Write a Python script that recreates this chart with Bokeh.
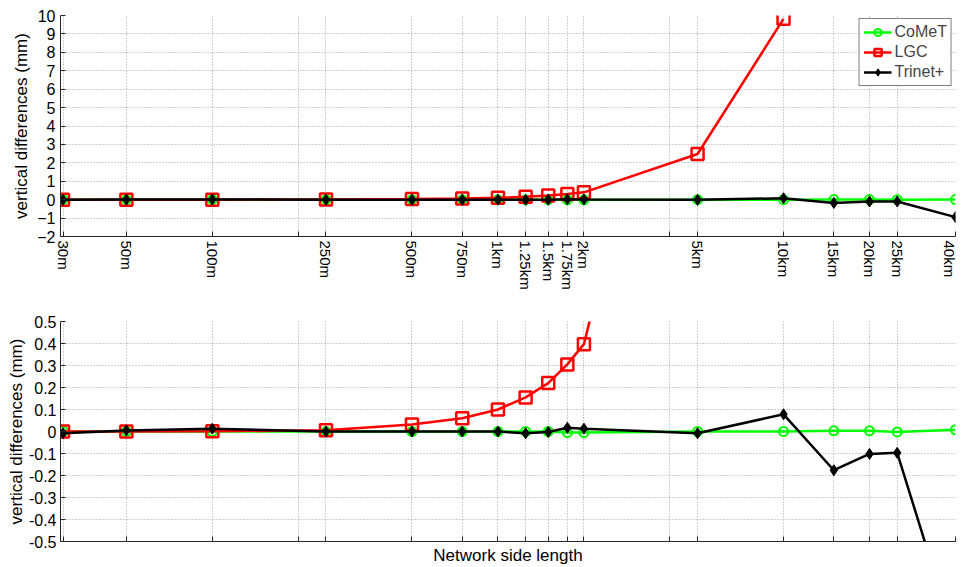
from bokeh.plotting import figure
from bokeh.layouts import column
from bokeh.models import Range1d, FixedTicker, CustomJSTickFormatter
from bokeh.embed import file_html
from bokeh.resources import INLINE

# ---- data ----
distance_m = [30, 50, 100, 250, 500, 750, 1000, 1250, 1500, 1750, 2000,
              5000, 10000, 15000, 20000, 25000, 40000]
tick_labels = ["30m", "50m", "100m", "250m", "500m", "750m", "1km", "1.25km",
               "1.5km", "1.75km", "2km", "5km", "10km", "15km", "20km", "25km", "40km"]
extra_grid_m = [200, 4000]

comet = [0.0, 0.0, 0.0, 0.0, 0.0, 0.0, 0.0, 0.0, 0.0, -0.005, -0.005,
         0.0, 0.0, 0.003, 0.003, -0.002, 0.008]
lgc_distance_m = [30, 50, 100, 250, 500, 750, 1000, 1250, 1500, 1750, 2000, 5000, 10000]
lgc = [0.0001, 0.0003, 0.001, 0.006, 0.032, 0.06, 0.10, 0.155, 0.22, 0.305, 0.397, 2.48, 9.82]
trinet = [-0.008, 0.005, 0.013, 0.0, 0.0, 0.0, 0.0, -0.008, -0.002, 0.017, 0.013,
          -0.008, 0.078, -0.176, -0.102, -0.097, -0.95]

y1_ticks = [-2, -1, 0, 1, 2, 3, 4, 5, 6, 7, 8, 9, 10]
y2_ticks = [-0.5, -0.4, -0.3, -0.2, -0.1, 0, 0.1, 0.2, 0.3, 0.4, 0.5]

FONT = "Liberation Sans"
AX = "#262626"
GRID = "#a0a0a0"


def base_fig(height, yr, top, bottom):
    p = figure(width=957, height=height, x_axis_type="log",
               x_range=Range1d(29.4, 40000), y_range=Range1d(*yr),
               output_backend="svg", toolbar_location=None,
               min_border_left=60, min_border_right=2,
               min_border_top=top, min_border_bottom=bottom)
    p.outline_line_color = None
    p.background_fill_color = "white"
    for g in (p.xgrid, p.ygrid):
        g.grid_line_color = GRID
        g.grid_line_dash = "1 2"
        g.grid_line_width = 1
    for ax in (p.xaxis, p.yaxis):
        ax.axis_line_color = AX
        ax.major_tick_line_color = AX
        ax.major_tick_in = 5
        ax.major_tick_out = 0
        ax.minor_tick_line_color = None
        ax.major_label_text_font = FONT
        ax.major_label_text_font_size = "15px"
        ax.major_label_text_color = "black"
        ax.axis_label_text_font = FONT
        ax.axis_label_text_font_size = "17px"
        ax.axis_label_text_font_style = "normal"
        ax.axis_label_text_color = "black"
    p.yaxis.major_label_text_font_size = "16px"
    p.xaxis.ticker = FixedTicker(ticks=sorted(distance_m + extra_grid_m))
    p.yaxis.major_label_standoff = 5
    p.yaxis.axis_label_standoff = 3
    p.yaxis.axis_label = "vertical differences (mm)"
    return p


def draw(p, legend):
    kw = lambda name: dict(legend_label=name) if legend else {}
    p.line(distance_m, comet, line_color="#00ff00", line_width=2.5, **kw("CoMeT"))
    p.scatter(distance_m, comet, marker="circle", size=9, line_color="#00ff00",
              line_width=2, fill_color=None, **kw("CoMeT"))
    p.line(lgc_distance_m, lgc, line_color="#ff0000", line_width=2.5, **kw("LGC"))
    p.scatter(lgc_distance_m, lgc, marker="square", size=12, line_color="#ff0000",
              line_width=2.5, fill_color=None, **kw("LGC"))
    p.line(distance_m, trinet, line_color="black", line_width=2.5, **kw("Trinet+"))
    p.scatter(distance_m, trinet, marker="diamond", size=11, line_color="black",
              fill_color="black", **kw("Trinet+"))


# ---- top panel ----
p1 = base_fig(300, (-2, 10), 15, 64)
p1.yaxis.ticker = FixedTicker(ticks=y1_ticks)
p1.xaxis.formatter = CustomJSTickFormatter(
    args=dict(dist=distance_m, labels=tick_labels),
    code="const i = dist.indexOf(tick); return i >= 0 ? labels[i] : '';")
p1.xaxis.major_label_orientation = "vertical"
p1.xaxis.major_label_standoff = 4
draw(p1, True)
lg = p1.legend[0]
lg.location = "top_right"
lg.margin = 3
lg.padding = 4
lg.spacing = 2
lg.glyph_width = 28
lg.glyph_height = 18
lg.label_height = 18
lg.label_standoff = 3
lg.label_text_font = FONT
lg.label_text_font_size = "16px"
lg.border_line_color = "black"
lg.border_line_width = 1
lg.background_fill_alpha = 1

# ---- bottom panel ----
p2 = base_fig(267, (-0.5, 0.5), 21, 25)
p2.yaxis.ticker = FixedTicker(ticks=y2_ticks)
p2.yaxis.formatter = CustomJSTickFormatter(
    code="return (Math.round(tick * 10) / 10).toString();")
p2.yaxis.major_label_standoff = 4
p2.yaxis.axis_label_standoff = 0
p2.xaxis.formatter = CustomJSTickFormatter(code="return '';")
p2.xaxis.major_label_text_font_size = "0px"
p2.xaxis.major_label_standoff = 0
p2.xaxis.axis_label = "Network side length"
p2.xaxis.axis_label_standoff = 4
draw(p2, False)

layout = column(p1, p2, spacing=0)
open("out.html", "w").write(file_html(layout, INLINE))
